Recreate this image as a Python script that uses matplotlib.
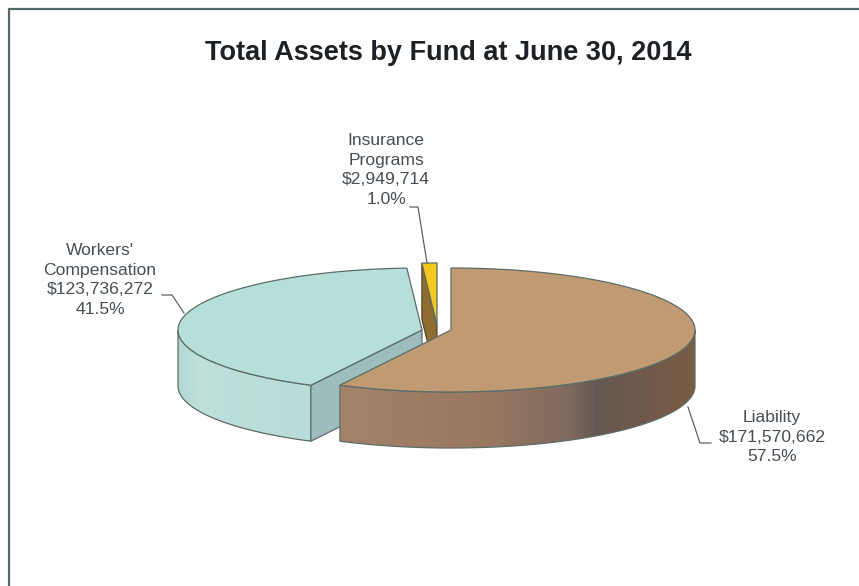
import numpy as np
import matplotlib
matplotlib.use("Agg")
import matplotlib.pyplot as plt
from matplotlib.colors import LinearSegmentedColormap
from matplotlib.patches import Polygon

plt.rcParams['font.family'] = ['Liberation Sans', 'DejaVu Sans']

title = "Total Assets by Fund at June 30, 2014"
funds = ["Liability", "Workers'\nCompensation", "Insurance\nPrograms"]
assets = [171570662, 123736272, 2949714]

face_colors = ["#c09a72", "#b6dfda", "#f6c81e"]
edge_color = "#5c6c68"
text_color = "#474d55"

# pie geometry, in pixels
A, B = 244, 62
DEPTH = 56
centers = [(451, 330), (422, 330), (437, 325)]

shares = np.array(assets) / sum(assets)
bounds = np.concatenate([[0], np.cumsum(shares) * 360])


def rim(cx, cy, start, end, n=120):
    t = np.radians(np.linspace(start, end, n))
    return np.column_stack([cx + A * np.sin(t), cy - B * np.cos(t)])


def draw_side(ax, cx, cy, start, end, cmap, z):
    # outer wall: horizontal gradient clipped to the wall outline
    p = rim(cx, cy, start, end)
    wall = np.vstack([p, p[::-1] + [0, DEPTH]])
    x0, x1 = wall[:, 0].min(), wall[:, 0].max()
    y0, y1 = wall[:, 1].min(), wall[:, 1].max()
    shade = np.linspace(0, 1, 300).reshape(1, -1)
    im = ax.imshow(shade, cmap=cmap, extent=[x0, x1, y1, y0], aspect="auto",
                   vmin=0, vmax=1, zorder=z)
    outline = Polygon(wall, closed=True, transform=ax.transData, facecolor="none",
                      edgecolor=edge_color, lw=0.9, zorder=z)
    ax.add_patch(outline)
    im.set_clip_path(outline)


def draw_top(ax, cx, cy, start, end, color, z):
    p = np.vstack([[cx, cy], rim(cx, cy, start, end), [cx, cy]])
    ax.fill(p[:, 0], p[:, 1], facecolor=color, edgecolor=edge_color, lw=0.9, zorder=z)


fig = plt.figure(figsize=(8.59, 5.86), dpi=100)
ax = fig.add_axes([0, 0, 1, 1])

liability_wall = LinearSegmentedColormap.from_list(
    "liability_wall", [(0, "#a5826a"), (0.4, "#9a7860"), (0.65, "#7e6a5e"), (0.72, "#655853"), (1, "#7b5c44")])
workers_wall = LinearSegmentedColormap.from_list(
    "workers_wall", [(0, "#b2d8d4"), (0.15, "#bfe0db"), (1, "#b8dcd8")])

# back to front: insurance, workers, liability
cx, cy = centers[2]
s, e = bounds[2] + 1e-3, bounds[3]
outer = rim(cx, cy, s, s, 1)[0]
face = np.array([outer, [cx, cy], [cx, cy + DEPTH], outer + [0, DEPTH]])
ax.fill(face[:, 0], face[:, 1], facecolor="#8f6c30", edgecolor="#4a4030", lw=0.8, zorder=2)
draw_top(ax, cx, cy, s, e, face_colors[2], 2)

cx, cy = centers[1]
s, e = bounds[1], bounds[2]
draw_side(ax, cx, cy, s, 270, workers_wall, 3)
outer = rim(cx, cy, s, s, 1)[0]
face = np.array([outer, [cx, cy], [cx, cy + DEPTH], outer + [0, DEPTH]])
ax.fill(face[:, 0], face[:, 1], facecolor="#9fbcbc", edgecolor=edge_color, lw=0.9, zorder=3)
draw_top(ax, cx, cy, s, e, face_colors[1], 3)

cx, cy = centers[0]
s, e = bounds[0], bounds[1]
draw_side(ax, cx, cy, 90, e, liability_wall, 4)
draw_top(ax, cx, cy, s, e, face_colors[0], 4)

# frame runs off the right and bottom edges
ax.plot([9, 9, 859], [586, 9, 9], color="#4f6766", lw=1.6)

ax.text(448, 53.5, title, ha="center", va="center", fontsize=19.5, fontweight="bold", color="#1d2125")

# value labels and their leader lines
label_pos = [(772, 437), (100, 280), (386, 170)]
leaders = [
    ([688, 700, 711], [407, 443, 443]),
    ([162, 172, 184], [295, 295, 313]),
    ([410, 418, 427], [207, 207, 263]),
]
for fund, value, share, pos, (lx, ly) in zip(funds, assets, shares, label_pos, leaders):
    label = f"{fund}\n${value:,}\n{share * 100:.1f}%"
    ax.text(pos[0], pos[1], label, ha="center", va="center", fontsize=12.6,
            color=text_color, linespacing=1.39, zorder=6)
    ax.plot(lx, ly, color="#5a6468", lw=0.9, zorder=6)

ax.set_xlim(0, 859)
ax.set_ylim(586, 0)
ax.axis("off")

fig.savefig("out.png", dpi=100)
